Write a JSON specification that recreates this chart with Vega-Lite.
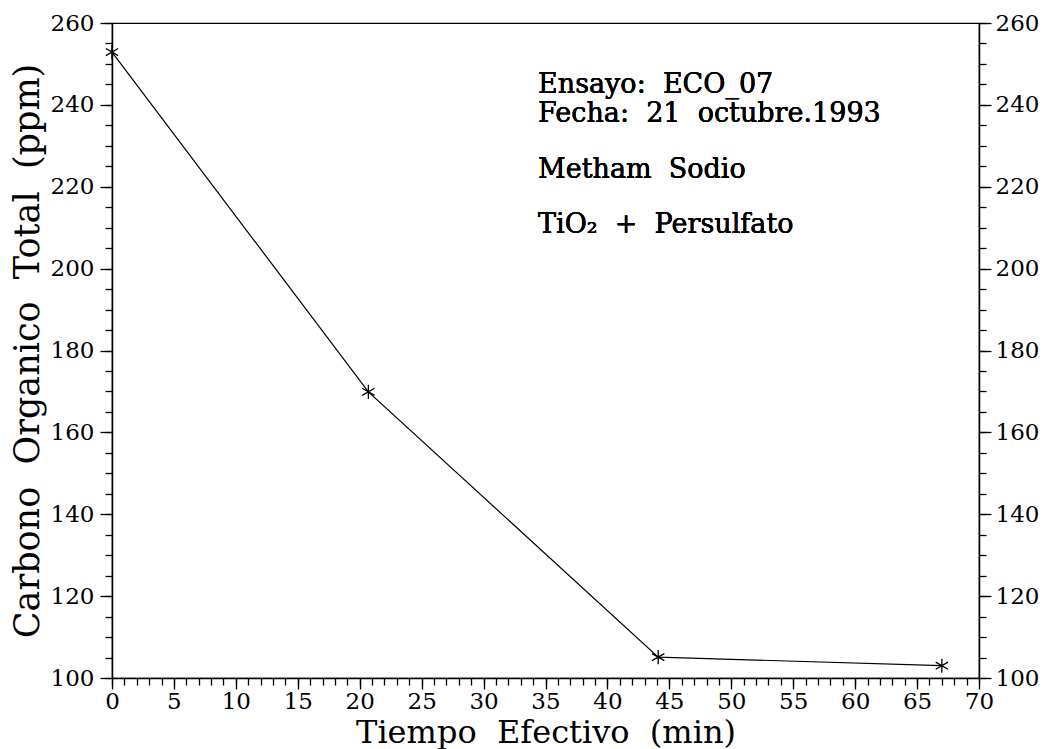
{
  "$schema": "https://vega.github.io/schema/vega-lite/v6.json",
  "autosize": "none",
  "width": 867,
  "height": 655,
  "padding": {"left": 112, "top": 23, "right": 65, "bottom": 71},
  "background": "white",
  "config": {
    "view": {"stroke": "black", "strokeWidth": 1.2},
    "font": "DejaVu Serif",
    "axis": {
      "grid": false,
      "labelFlush": false,
      "labelOverlap": false,
      "domainColor": "black",
      "domainWidth": 1.5,
      "tickColor": "black",
      "tickWidth": 1.3,
      "labelColor": "black",
      "titleColor": "black",
      "labelFont": "DejaVu Serif",
      "titleFont": "DejaVu Serif",
      "labelFontSize": 23,
      "titleFontSize": 32,
      "titleFontWeight": "normal"
    }
  },
  "data": {
    "values": [
      {"t": 0, "c": 252.9},
      {"t": 20.7, "c": 169.9},
      {"t": 44.1, "c": 105.1},
      {"t": 67.0, "c": 103.0}
    ]
  },
  "resolve": {"axis": {"x": "independent", "y": "independent"}},
  "layer": [
    {
      "mark": {"type": "line", "color": "black", "strokeWidth": 1.2},
      "encoding": {
        "x": {
          "field": "t", "type": "quantitative",
          "scale": {"domain": [0, 70], "nice": false, "zero": false},
          "axis": {
            "orient": "bottom",
            "values": [0, 5, 10, 15, 20, 25, 30, 35, 40, 45, 50, 55, 60, 65, 70],
            "tickSize": 11,
            "labelPadding": 1,
            "title": "Tiempo \u00a0Efectivo \u00a0(min)",
            "titlePadding": 4
          }
        },
        "y": {
          "field": "c", "type": "quantitative",
          "scale": {"domain": [100, 260], "nice": false, "zero": false},
          "axis": {
            "orient": "left",
            "values": [100, 120, 140, 160, 180, 200, 220, 240, 260],
            "tickSize": 12,
            "labelPadding": 6,
            "title": "Carbono \u00a0Organico \u00a0Total \u00a0(ppm)",
            "titleFontSize": 35,
            "titlePadding": 5
          }
        }
      }
    },
    {
      "mark": {
        "type": "point",
        "shape": "M0,-1L0,1M-0.87,-0.5L0.87,0.5M-0.87,0.5L0.87,-0.5",
        "filled": false,
        "color": "black",
        "strokeWidth": 1.3,
        "size": 200,
        "opacity": 1
      },
      "encoding": {
        "x": {
          "field": "t", "type": "quantitative",
          "axis": {
            "orient": "bottom",
            "values": [0,1,2,3,4,5,6,7,8,9,10,11,12,13,14,15,16,17,18,19,20,21,22,23,24,25,26,27,28,29,30,31,32,33,34,35,36,37,38,39,40,41,42,43,44,45,46,47,48,49,50,51,52,53,54,55,56,57,58,59,60,61,62,63,64,65,66,67,68,69,70],
            "tickSize": 7,
            "labels": false,
            "domain": false,
            "title": null
          }
        },
        "y": {
          "field": "c", "type": "quantitative",
          "axis": {
            "orient": "right",
            "values": [100, 120, 140, 160, 180, 200, 220, 240, 260],
            "tickSize": 12,
            "labelPadding": 4,
            "title": null
          }
        }
      }
    },
    {
      "mark": {"type": "point", "opacity": 0},
      "encoding": {
        "x": {"field": "t", "type": "quantitative", "axis": null},
        "y": {
          "field": "c", "type": "quantitative",
          "axis": {
            "orient": "left",
            "values": [100,105,110,115,120,125,130,135,140,145,150,155,160,165,170,175,180,185,190,195,200,205,210,215,220,225,230,235,240,245,250,255,260],
            "tickSize": 7,
            "labels": false,
            "domain": false,
            "title": null
          }
        }
      }
    },
    {
      "mark": {"type": "point", "opacity": 0},
      "encoding": {
        "x": {"field": "t", "type": "quantitative", "axis": null},
        "y": {
          "field": "c", "type": "quantitative",
          "axis": {
            "orient": "right",
            "values": [100,105,110,115,120,125,130,135,140,145,150,155,160,165,170,175,180,185,190,195,200,205,210,215,220,225,230,235,240,245,250,255,260],
            "tickSize": 7,
            "labels": false,
            "domain": false,
            "title": null
          }
        }
      }
    },
    {
      "mark": {"type": "text", "align": "left", "baseline": "alphabetic", "fontSize": 27, "font": "DejaVu Serif", "color": "black"},
      "encoding": {
        "x": {"datum": 34.4, "type": "quantitative", "axis": null},
        "y": {"datum": 242.8, "type": "quantitative", "axis": null},
        "text": {"value": "Ensayo: \u00a0ECO_07"}
      }
    },
    {
      "mark": {"type": "text", "align": "left", "baseline": "alphabetic", "fontSize": 27, "font": "DejaVu Serif", "color": "black"},
      "encoding": {
        "x": {"datum": 34.4, "type": "quantitative", "axis": null},
        "y": {"datum": 235.7, "type": "quantitative", "axis": null},
        "text": {"value": "Fecha: \u00a021 \u00a0octubre.1993"}
      }
    },
    {
      "mark": {"type": "text", "align": "left", "baseline": "alphabetic", "fontSize": 27, "font": "DejaVu Serif", "color": "black"},
      "encoding": {
        "x": {"datum": 34.4, "type": "quantitative", "axis": null},
        "y": {"datum": 222.1, "type": "quantitative", "axis": null},
        "text": {"value": "Metham \u00a0Sodio"}
      }
    },
    {
      "mark": {"type": "text", "align": "left", "baseline": "alphabetic", "fontSize": 27, "font": "DejaVu Serif", "color": "black"},
      "encoding": {
        "x": {"datum": 34.4, "type": "quantitative", "axis": null},
        "y": {"datum": 208.6, "type": "quantitative", "axis": null},
        "text": {"value": "TiO₂ \u00a0+ \u00a0Persulfato"}
      }
    }
  ]
}
